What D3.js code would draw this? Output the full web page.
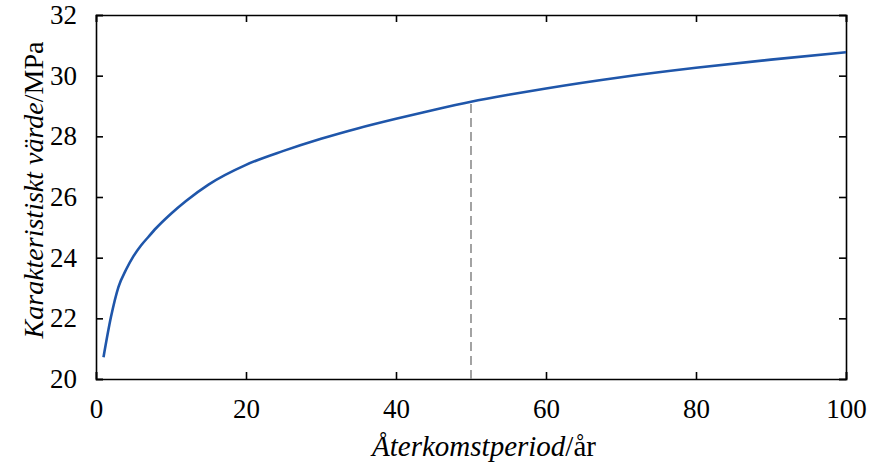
<!DOCTYPE html>
<html>
<head>
<meta charset="utf-8">
<script src="https://cdn.jsdelivr.net/npm/d3@7"></script>
<style>
  body { margin: 0; background: #fff; }
  svg text { font-family: "Liberation Serif", "Times New Roman", Times, serif !important; fill: #000; }
</style>
</head>
<body>
<div id="chart"></div>
<script>
// return period (years) and characteristic value (MPa)
const period = [1, 2, 3, 4, 5, 6, 7, 8, 10, 12, 15, 20, 25, 30, 35, 40, 45, 50, 55, 60, 70, 80, 90, 100];
const value = [20.72, 22.05, 23.04, 23.6, 24.05, 24.4, 24.69, 24.97, 25.45, 25.87, 26.41, 27.06, 27.52, 27.92, 28.27, 28.58, 28.87, 29.14, 29.37, 29.58, 29.95, 30.26, 30.53, 30.77];
const markPeriod = 50;
const markValue = 29.14;
const xTicks = [0, 20, 40, 60, 80, 100];
const yTicks = [20, 22, 24, 26, 28, 30, 32];

const data = period.map((p, i) => ({p: p, v: value[i]}));

// set the dimensions and margins of the graph
const margin = {top: 15, right: 39, bottom: 85, left: 96},
    width = 885 - margin.left - margin.right,
    height = 464 - margin.top - margin.bottom;

const svg = d3.select("#chart")
    .append("svg")
    .attr("width", 885)
    .attr("height", 464)
    .append("g")
    .attr("transform", `translate(${margin.left},${margin.top})`);

const x = d3.scaleLinear().domain([0, 100]).range([0, width]);
const y = d3.scaleLinear().domain([20, 32]).range([height, 0]);

const tickLen = 7;

// bottom axis (ticks inward)
svg.append("g")
    .attr("transform", `translate(0,${height})`)
    .call(d3.axisBottom(x).tickValues(xTicks).tickSize(-tickLen).tickPadding(tickLen + 13))
    .call(g => g.selectAll("text").attr("font-size", 27));

// top axis mirror
svg.append("g")
    .call(d3.axisTop(x).tickValues(xTicks).tickSize(-tickLen).tickFormat(""));

// left axis
svg.append("g")
    .call(d3.axisLeft(y).tickValues(yTicks).tickSize(-tickLen).tickPadding(tickLen + 12))
    .call(g => g.selectAll("text").attr("font-size", 27));

// right axis mirror
svg.append("g")
    .attr("transform", `translate(${width},0)`)
    .call(d3.axisRight(y).tickValues(yTicks).tickSize(-tickLen).tickFormat(""));

svg.selectAll(".domain, .tick line")
    .attr("stroke", "#000")
    .attr("stroke-width", 1.6);

// dashed marker at 50 years
svg.append("line")
    .attr("x1", x(markPeriod))
    .attr("x2", x(markPeriod))
    .attr("y1", y(20))
    .attr("y2", y(markValue))
    .attr("stroke", "#8c8c8c")
    .attr("stroke-width", 1.6)
    .attr("stroke-dasharray", "9,5");

const line = d3.line()
    .x(d => x(d.p))
    .y(d => y(d.v))
    .curve(d3.curveMonotoneX);

svg.append("path")
    .datum(data)
    .attr("fill", "none")
    .attr("stroke", "#1f56aa")
    .attr("stroke-width", 2.6)
    .attr("d", line);

// axis titles
const xt = svg.append("text")
    .attr("x", width / 2 + 13)
    .attr("y", height + 77)
    .attr("text-anchor", "middle")
    .attr("font-size", 29);
xt.append("tspan").attr("font-style", "italic").text("Återkomstperiod");
xt.append("tspan").text("/år");

const yt = svg.append("text")
    .attr("transform", `translate(${-margin.left + 43},${height / 2 - 7}) rotate(-90)`)
    .attr("text-anchor", "middle")
    .attr("font-size", 28);
yt.append("tspan").attr("font-style", "italic").text("Karakteristiskt värde");
yt.append("tspan").text("/MPa");
</script>
</body>
</html>
